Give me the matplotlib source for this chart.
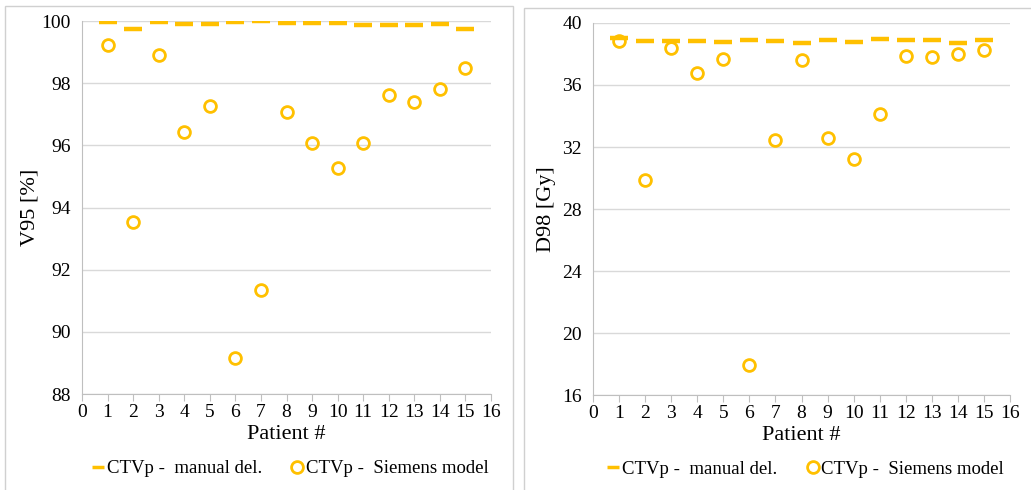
import matplotlib
matplotlib.use("Agg")
import matplotlib.pyplot as plt
from matplotlib.patches import Rectangle

plt.rcParams['font.family'] = ['Liberation Serif', 'DejaVu Serif']

# patient numbers
patients = list(range(1, 16))

# V95 [%]
v95_manual = [99.96, 99.74, 99.98, 99.91, 99.91, 99.96, 100.0, 99.95, 99.92, 99.92,
              99.88, 99.87, 99.87, 99.90, 99.75]
v95_siemens = [99.23, 93.53, 98.91, 96.44, 97.26, 89.16, 91.33, 97.08, 96.06, 95.27,
               96.07, 97.63, 97.41, 97.82, 98.48]

# D98 [Gy]
d98_manual = [39.01, 38.86, 38.84, 38.86, 38.79, 38.88, 38.86, 38.69, 38.88, 38.75,
              38.97, 38.88, 38.92, 38.71, 38.92]
d98_siemens = [38.82, 29.88, 38.39, 36.77, 37.65, 17.94, 32.42, 37.61, 32.57, 31.22,
               34.12, 37.89, 37.80, 38.00, 38.28]

gold = '#FFC000'
grid_c = '#D9D9D9'
spine_c = '#BFBFBF'

fig = plt.figure(figsize=(10.31, 4.9), dpi=100)

# panel frames
fig.patches.append(Rectangle((5 / 1031, -0.05), 508 / 1031, 1.05 - 6 / 490,
                             transform=fig.transFigure, fill=False,
                             edgecolor='#D0D0D0', lw=1.0))
fig.patches.append(Rectangle((524 / 1031, -0.05), 520 / 1031, 1.05 - 8 / 490,
                             transform=fig.transFigure, fill=False,
                             edgecolor='#D0D0D0', lw=1.0))

ax1 = fig.add_axes([82 / 1031, 1 - 394 / 490, 409 / 1031, 373 / 490])
ax2 = fig.add_axes([593 / 1031, 1 - 395 / 490, 417 / 1031, 372 / 490])


def style(ax, manual, siemens, ylim, yticks, ylabel, ylab_x):
    ax.plot(patients, manual, linestyle='none', marker='_', markersize=13,
            markeredgewidth=3.2, color=gold, label='CTVp -  manual del.')
    ax.plot(patients, siemens, linestyle='none', marker='o', markersize=8.5,
            markerfacecolor='none', markeredgewidth=2, markeredgecolor=gold,
            label='CTVp -  Siemens model')
    ax.set_xlim(0, 16)
    ax.set_ylim(*ylim)
    ax.set_xticks(range(0, 17))
    ax.set_yticks(yticks)
    ax.yaxis.grid(True, color=grid_c, lw=1)
    ax.set_axisbelow(True)
    for s in ['top', 'right']:
        ax.spines[s].set_visible(False)
    ax.spines['left'].set_color(spine_c)
    ax.spines['bottom'].set_color(spine_c)
    ax.tick_params(axis='x', direction='out', length=5, color=spine_c,
                   labelsize=14, pad=2)
    ax.tick_params(axis='y', length=0, labelsize=14, pad=8)
    ax.set_xlabel('Patient #', fontsize=16, labelpad=3)
    ax.set_ylabel(ylabel, fontsize=16)
    ax.yaxis.set_label_coords(ylab_x, 0.5)
    leg = ax.legend(loc='center', bbox_to_anchor=(0.51, -0.2), ncol=2, frameon=False,
                    fontsize=13.5, handlelength=0.6, handletextpad=0.15,
                    columnspacing=1.6)
    leg.legend_handles[0].set_markersize(8)
    leg.legend_handles[0].set_markeredgewidth(2.5)


style(ax1, v95_manual, v95_siemens, (88, 100), range(88, 101, 2), 'V95 [%]', -0.105)
style(ax2, d98_manual, d98_siemens, (16, 40), range(16, 41, 4), 'D98 [Gy]', -0.089)

fig.savefig('out.png', dpi=100)
